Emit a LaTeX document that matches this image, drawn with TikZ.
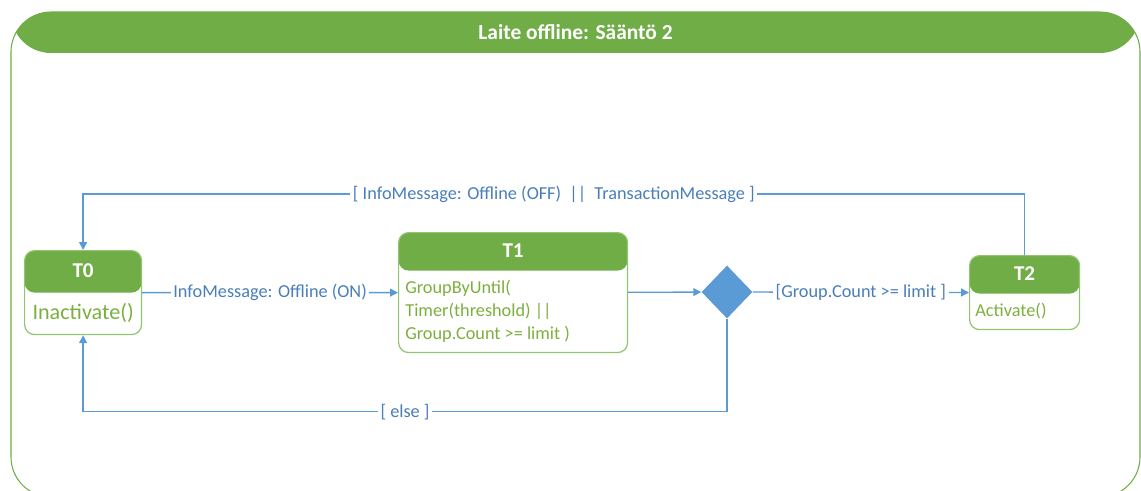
\documentclass[tikz,border=0pt]{standalone}
\usepackage{fontspec}
\setmainfont{Carlito}
\usepackage{tikz}
\usetikzlibrary{arrows.meta, positioning, shapes.geometric}
\definecolor{hdrgreen}{HTML}{70AD47}
\definecolor{bodygreen}{HTML}{7CAF3E}
\definecolor{edgegreen}{HTML}{93C472}
\definecolor{flowblue}{HTML}{5B9BD5}
\definecolor{lblblue}{HTML}{4A7EBB}

\begin{document}
\begin{tikzpicture}[x=0.02cm, y=-0.02cm,
  panel/.style={draw=hdrgreen, line width=0.6pt, rounded corners=0.8cm,
                path picture={\fill[hdrgreen] (path picture bounding box.north west)
                  rectangle ([yshift=-0.82cm]path picture bounding box.north east);}},
  state/.style={draw=edgegreen, line width=0.7pt, rounded corners=0.2cm, anchor=north west,
                inner sep=0pt,
                path picture={\fill[hdrgreen] (path picture bounding box.north west)
                  rectangle ([yshift=-#1]path picture bounding box.north east);}},
  decision/.style={diamond, fill=flowblue, inner sep=0pt, minimum width=1.02cm, minimum height=1.06cm},
  title/.style={text=white, font=\bfseries\fontsize{12.2}{14}\selectfont},
  head/.style={text=white, font=\bfseries\fontsize{12}{14}\selectfont},
  act/.style={text=bodygreen, inner sep=0pt, font=\fontsize{10.4}{13}\selectfont},
  lbl/.style={fill=white, inner sep=1.5pt, text=lblblue, font=\fontsize{10.4}{12}\selectfont},
  arr/.style={-{Triangle[length=4.5pt, width=4.5pt]}, draw=flowblue, line width=0.75pt},
]
  \useasboundingbox (0,0) rectangle (1141,490);
  \clip (0,0) rectangle (1141,490);
  \draw[panel] (11,12) rectangle (1140,497);
  \node[title] (ttl) at (575.5,32) {Laite offline: Sääntö 2};

  \node[state=0.84cm, minimum width=2.34cm, minimum height=1.68cm] (t0) at (24,250) {};
  \node[state=0.76cm, minimum width=4.58cm, minimum height=2.4cm] (t1) at (398,232) {};
  \node[state=0.76cm, minimum width=2.2cm, minimum height=1.48cm] (t2) at (969,255) {};
  \node[decision] (dec) at (727,292) {};

  \node[head] (t0h) at ([yshift=-0.42cm]t0.north) {T0};
  \node[act, font=\fontsize{12.6}{15}\selectfont] (t0b) at ([yshift=-1.26cm]t0.north) {Inactivate()};
  \node[head] (t1h) at ([yshift=-0.38cm]t1.north) {T1};
  \node[act, anchor=west, align=left] (t1b) at ([xshift=0.14cm, yshift=-1.58cm]t1.north west)
    {GroupByUntil(\\Timer(threshold)\ ||\\Group.Count >= limit )};
  \node[head] (t2h) at ([yshift=-0.38cm]t2.north) {T2};
  \node[act, anchor=west] (t2b) at ([xshift=0.12cm, yshift=-1.12cm]t2.north west) {Activate()};

  \draw[arr] (t0) -- node[lbl]{InfoMessage: Offline (ON)} (t1);
  \draw[arr] (t1) -- (dec);
  \draw[arr] (dec) -- node[lbl]{[Group.Count >= limit ]} (t2);
  \draw[arr] (t2.north) -- ([yshift=1.22cm]t2.north) -| node[lbl, pos=0.25]
    {[ InfoMessage: Offline (OFF)\ \ ||\ \ TransactionMessage ]} (t0.north);
  \draw[arr] (dec.south) -- ([yshift=-1.86cm]dec.south) -| node[lbl, pos=0.25]{[ else ]} (t0.south);
\end{tikzpicture}
\end{document}
